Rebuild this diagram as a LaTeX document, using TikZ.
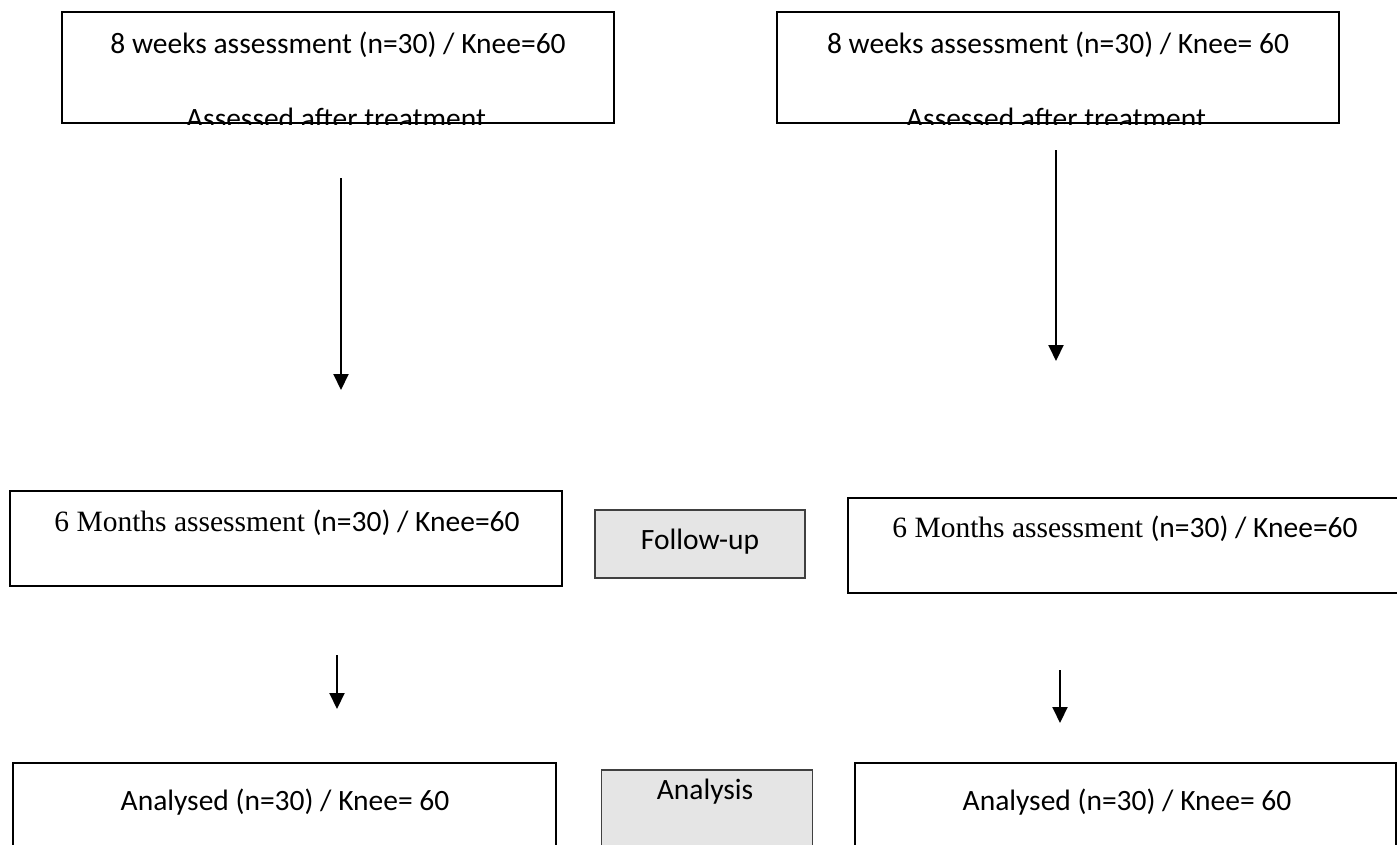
\documentclass[tikz,border=0pt]{standalone}
\usepackage{fontspec}
\setmainfont{Carlito}
\newfontfamily\tnr{Liberation Serif}
\usetikzlibrary{arrows.meta}
\begin{document}
\begin{tikzpicture}[x=1pt,y=-1pt,
  box/.style={draw=black,line width=1.8pt,inner sep=0pt},
  graybox/.style={draw=black!75,line width=1.4pt,fill=black!10,inner sep=0pt},
  txt/.style={font=\fontsize{29.5}{35}\selectfont,inner sep=0pt,anchor=base},
  arr/.style={line width=2pt,-{Triangle[width=15pt,length=16pt]}}]
\useasboundingbox (0,0) rectangle (1397,844);
% top boxes
\node[box,minimum width=552pt,minimum height=111pt] (tl) at (338,67.5) {};
\node[box,minimum width=562pt,minimum height=111pt] (tr) at (1058,67.5) {};
\begin{scope}
\clip ([shift={(1pt,-1pt)}]tl.south west) rectangle ([shift={(-1pt,1pt)}]tl.north east);
\node[txt] (tlA) at (338,53) {8 weeks assessment (n=30) / Knee=60};
\node[txt] (tlB) at (336,128.5) {Assessed after treatment};
\end{scope}
\begin{scope}
\clip ([shift={(1pt,-1pt)}]tr.south west) rectangle ([shift={(-1pt,1pt)}]tr.north east);
\node[txt] (trA) at (1058,53) {8 weeks assessment (n=30) / Knee= 60};
\node[txt] (trB) at (1056,128.5) {Assessed after treatment};
\end{scope}
% middle boxes
\node[box,minimum width=552pt,minimum height=95pt] (ml) at (286,538.5) {};
\node[graybox,minimum width=210pt,minimum height=68pt] (fu) at (700,544) {};
\node[box,minimum width=560pt,minimum height=95pt] (mr) at (1128,545.5) {};
\node[txt] (mlT) at (287,531) {{\tnr 6 Months assessment }(n=30) / Knee=60};
\node[txt] (fuT) at (700,549) {Follow-up};
\node[txt] (mrT) at (1125,537) {{\tnr 6 Months assessment }(n=30) / Knee=60};
% bottom boxes
\node[box,minimum width=543pt,minimum height=120pt] (bl) at (284.5,823) {};
\node[graybox,minimum width=211pt,minimum height=110pt] (an) at (707,825) {};
\node[box,minimum width=541pt,minimum height=120pt] (br) at (1125.5,823) {};
\node[txt] (blT) at (285,810) {Analysed (n=30) / Knee= 60};
\node[txt] (anT) at (705,799) {Analysis};
\node[txt] (brT) at (1127,810) {Analysed (n=30) / Knee= 60};
% arrows
\coordinate (a1s) at (341,178); \coordinate (a1e) at (341,390);
\coordinate (a2s) at (1056,150); \coordinate (a2e) at (1056,361);
\coordinate (a3s) at (337,655); \coordinate (a3e) at (337,709);
\coordinate (a4s) at (1060,670); \coordinate (a4e) at (1060,723);
\draw[arr] (a1s) -- (a1e);
\draw[arr] (a2s) -- (a2e);
\draw[arr] (a3s) -- (a3e);
\draw[arr] (a4s) -- (a4e);
\end{tikzpicture}
\end{document}
